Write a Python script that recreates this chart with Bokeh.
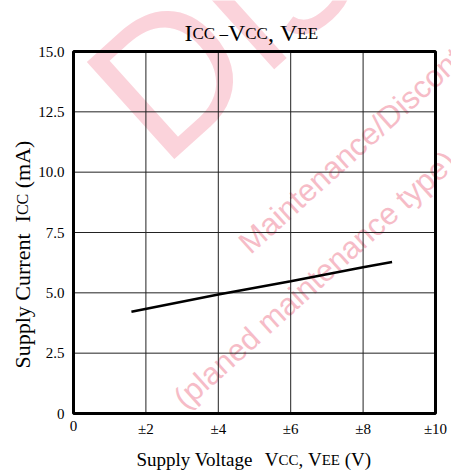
import math
from bokeh.plotting import figure
from bokeh.models import Range1d, Label
from bokeh.core.properties import value
from bokeh.embed import file_html
from bokeh.resources import INLINE

# ---- data ----
x_ticks = [0, 2, 4, 6, 8, 10]
x_tick_labels = ["0", "±2", "±4", "±6", "±8", "±10"]
y_ticks = [0, 2.5, 5, 7.5, 10, 12.5, 15]
y_tick_labels = ["0", "2.5", "5.0", "7.5", "10.0", "12.5", "15.0"]

supply_voltage = [1.6, 4.0, 6.0, 8.0, 8.8]
supply_current = [4.22, 4.93, 5.48, 6.06, 6.28]

# ---- layout ----
W, H = 451, 470
L, R, T, B = 73, 16, 51, 57          # margins of the plotting box
XMIN, XMAX = x_ticks[0], x_ticks[-1]
YMIN, YMAX = y_ticks[0], y_ticks[-1]
SX = (W - L - R) / (XMAX - XMIN)     # px per x unit
SY = (H - T - B) / (YMAX - YMIN)     # px per y unit
SERIF = "Liberation Serif"
SANS = "Liberation Sans"

# Times-compatible advance widths (per 1000 em) for placing text runs
ADV = {' ': 250, '(': 333, ')': 333, ',': 250, '–': 500, 'A': 722, 'C': 667, 'E': 611,
       'I': 333, 'S': 556, 'V': 722, 'a': 444, 'e': 444, 'g': 500, 'l': 278, 'm': 778,
       'n': 500, 'o': 500, 'p': 500, 'r': 333, 't': 278, 'u': 500, 'y': 500, 'c': 444}

def adv(text, size):
    return sum(ADV.get(ch, 500) for ch in text) * size / 1000.0

p = figure(width=W, height=H, output_backend="svg", toolbar_location=None,
           x_range=Range1d(XMIN - L / SX, XMAX + R / SX),
           y_range=Range1d(YMIN - B / SY, YMAX + T / SY),
           x_axis_location=None, y_axis_location=None,
           min_border=0, frame_width=W, frame_height=H)
p.background_fill_color = "white"
p.border_fill_color = "white"
p.outline_line_color = None
p.grid.visible = False

# pixel -> data helpers (text placement only)
def dx(px):
    return XMIN + (px - L) / SX

def dy(py):
    return YMIN + (H - B - py) / SY

def label(text, px, py, size, font=SERIF, angle=0.0, color="black", level="annotation"):
    lb = Label(x=dx(px), y=dy(py), text=text, text_font=font, text_font_size=f"{size}px",
               text_color=color, text_align="left", text_baseline="alphabetic",
               angle=angle, level=level)
    p.add_layout(lb)
    return lb

def run(pieces, px, py, vertical=False):
    """Place a run of (text, size) pieces one after another on a common baseline."""
    pos = px if not vertical else py
    for text, size in pieces:
        shown = text.strip()
        lead = adv(text[:len(text) - len(text.lstrip())], size)
        pos_piece = pos + lead if not vertical else pos - lead
        if shown:
            if vertical:
                label(shown, px, pos_piece, size, angle=math.pi / 2)
            else:
                label(shown, pos_piece, py, size)
        w = adv(text, size)
        pos = pos + w if not vertical else pos - w

# ---- watermark (behind everything) ----
ang = math.radians(42)
PINK = "#f6bcc7"
label("Discontinued", 118, 120, 190, font=SANS, angle=ang, color="#fbd3db", level="image")
label("Maintenance/Discontinued", 243, 247, 31, font=SANS, angle=ang, color=PINK, level="image")
label("(planed maintenance type)", 178, 402, 31, font=SANS, angle=ang, color=PINK, level="image")

# ---- grid ----
p.segment(x0=x_ticks, y0=[YMIN] * len(x_ticks), x1=x_ticks, y1=[YMAX] * len(x_ticks),
          line_color="#222222", line_width=1)
p.segment(x0=[XMIN] * len(y_ticks), y0=y_ticks, x1=[XMAX] * len(y_ticks), y1=y_ticks,
          line_color="#222222", line_width=1)

# ---- frame ----
p.quad(left=[XMIN], right=[XMAX], bottom=[YMIN], top=[YMAX],
       fill_color=None, line_color="black", line_width=3)

# ---- tick labels ----
p.text(x=x_ticks, y=[YMIN] * len(x_ticks), text=x_tick_labels,
       text_font=value(SERIF), text_font_size=value("15px"), text_color="black",
       text_align="center", text_baseline="top", y_offset=7)
p.text(x=[XMIN] * len(y_ticks), y=y_ticks, text=y_tick_labels,
       text_font=value(SERIF), text_font_size=value("15px"), text_color="black",
       text_align="right", text_baseline="middle", x_offset=-9)

# ---- data line ----
p.line(supply_voltage, supply_current, line_color="black", line_width=2.5)

# ---- title: I_CC - V_CC, V_EE ----
TM, TS = 24, 17
run([("I", TM), ("CC", TS), (" –", TS), ("V", TM), ("CC", TS), (",", TM),
     (" V", TM), ("EE", TS)], 184, 32.5)

# ---- x axis label ----
XM, XS = 19, 15
run([("Supply Voltage", XM), ("  V", XM), ("CC", XS), (",", XM), (" V", XM),
     ("EE", XS), (" (V)", XM)], 136, 459)

# ---- y axis label (rotated) ----
YM, YS = 22, 16
run([("Supply Current", YM), ("  I", YM), ("CC", YS), (" (mA)", YM)], 22, 368, vertical=True)

open("out.html", "w").write(file_html(p, INLINE))
